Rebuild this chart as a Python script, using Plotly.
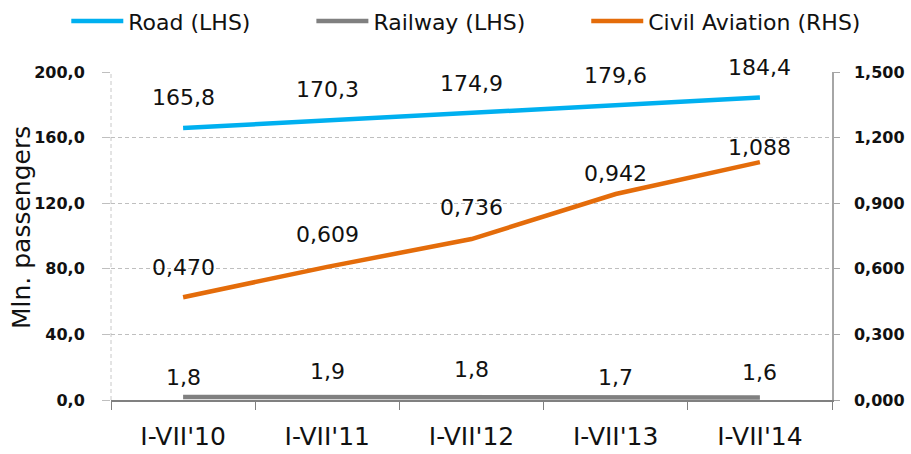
import plotly.graph_objects as go

categories = ["I-VII'10", "I-VII'11", "I-VII'12", "I-VII'13", "I-VII'14"]
road = [165.8, 170.3, 174.9, 179.6, 184.4]
railway = [1.8, 1.9, 1.8, 1.7, 1.6]
aviation = [0.470, 0.609, 0.736, 0.942, 1.088]

road_labels = ["165,8", "170,3", "174,9", "179,6", "184,4"]
railway_labels = ["1,8", "1,9", "1,8", "1,7", "1,6"]
aviation_labels = ["0,470", "0,609", "0,736", "0,942", "1,088"]

left_ticks = [0, 40, 80, 120, 160, 200]
left_ticktext = ["0,0", "40,0", "80,0", "120,0", "160,0", "200,0"]
right_ticks = [0, 0.3, 0.6, 0.9, 1.2, 1.5]
right_ticktext = ["0,000", "0,300", "0,600", "0,900", "1,200", "1,500"]

# label offsets (px) — styling only
road_shift = [31, 31, 30, 30, 30]
railway_shift = [20, 25, 28, 20, 25]
aviation_shift = [30, 32, 32, 21, 15]

FONT = "DejaVu Sans"
TXT = "#111111"
C_ROAD = "#00B0F0"
C_RAIL = "#808080"
C_AIR = "#E46C0A"
GRID = "#BFBFBF"
PAD = "\u00a0" * 8

fig = go.Figure()
fig.add_trace(go.Scatter(x=categories, y=road, mode="lines", name="Road (LHS)" + PAD,
                         line=dict(color=C_ROAD, width=4.5)))
fig.add_trace(go.Scatter(x=categories, y=railway, mode="lines", name="Railway (LHS)" + PAD,
                         line=dict(color=C_RAIL, width=4.5)))
fig.add_trace(go.Scatter(x=categories, y=aviation, mode="lines", name="Civil Aviation (RHS)",
                         line=dict(color=C_AIR, width=4.5), yaxis="y2"))

for vals, labs, shifts, yref in [(road, road_labels, road_shift, "y"),
                                  (railway, railway_labels, railway_shift, "y"),
                                  (aviation, aviation_labels, aviation_shift, "y2")]:
    for c, v, t, s in zip(categories, vals, labs, shifts):
        fig.add_annotation(x=c, y=v, xref="x", yref=yref, text=t, showarrow=False,
                           yshift=s, font=dict(family=FONT, size=22, color=TXT))

# y-axis title
fig.add_annotation(text="Mln. passengers", xref="paper", yref="paper", x=-0.125, y=0.527,
                   xanchor="center", yanchor="middle", textangle=-90, showarrow=False,
                   font=dict(family=FONT, size=25, color=TXT))

# dashed left axis line
fig.add_shape(type="line", xref="paper", yref="paper", x0=0, x1=0, y0=0, y1=1,
              line=dict(color="#C8C8C8", width=1, dash="4px,3px"), layer="below")

fig.update_layout(
    width=911, height=454,
    margin=dict(l=111, r=79, t=72, b=54, autoexpand=False),
    paper_bgcolor="white", plot_bgcolor="white",
    showlegend=True,
    legend=dict(orientation="h", x=-0.062, xanchor="left",
                y=1.219, yanchor="top",
                font=dict(family=FONT, size=22, color=TXT),
                itemwidth=52, tracegroupgap=0),
    xaxis=dict(type="category", tickson="boundaries", ticks="outside", ticklen=8,
               tickcolor="#808080", tickwidth=1, showline=True, linecolor="#808080",
               linewidth=2, showgrid=False, zeroline=False, ticklabelstandoff=13,
               automargin=False,
               tickfont=dict(family=FONT, size=25, color=TXT), range=[-0.5, 4.5]),
    yaxis=dict(range=[0, 200], tickvals=left_ticks, ticktext=left_ticktext,
               showgrid=True, gridcolor=GRID, griddash="4px,3px", gridwidth=1,
               zeroline=False, showline=False, ticks="outside", ticklen=8,
               tickcolor=GRID, ticklabelstandoff=14, automargin=False,
               tickfont=dict(family=FONT, size=16, color=TXT, weight="bold")),
    yaxis2=dict(range=[0, 1.5], tickvals=right_ticks, ticktext=right_ticktext,
                overlaying="y", side="right", showgrid=False, zeroline=False,
                showline=True, linecolor="#A6A6A6", linewidth=1.5, automargin=False,
                ticks="outside", ticklen=6, tickcolor="#A6A6A6", ticklabelstandoff=11,
                tickfont=dict(family=FONT, size=16, color=TXT, weight="bold")),
)

fig.write_html(
    "out.html",
    config={"displayModeBar": False},
    post_script="document.body.style.margin='0';document.body.style.overflow='hidden';",
)
